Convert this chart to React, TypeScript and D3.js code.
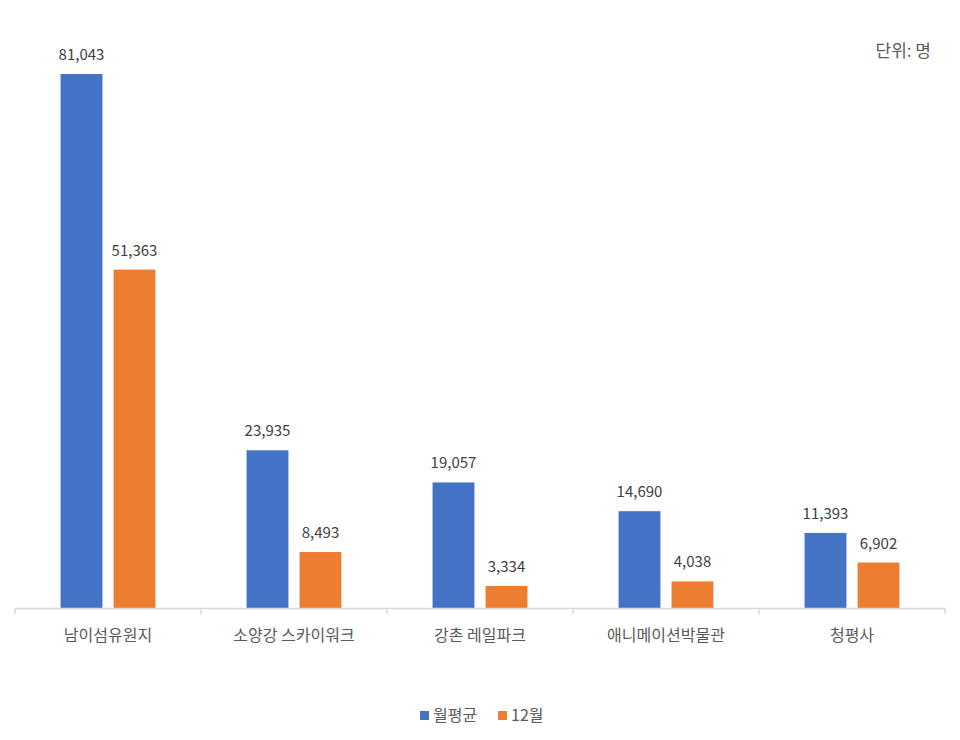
import React, { useEffect, useRef } from 'react';
import * as d3 from 'd3';

const categories = ['남이섬유원지', '소양강 스카이워크', '강촌 레일파크', '애니메이션박물관', '청평사'];
const seriesNames = ['월평균', '12월'];
const monthlyAvg = [81043, 23935, 19057, 14690, 11393];
const december = [51363, 8493, 3334, 4038, 6902];
const colors = ['#4472C4', '#ED7D31'];

const width = 960;
const height = 740;
const font = "'Noto Sans CJK KR', 'Noto Sans', sans-serif";

export default function App() {
  const ref = useRef<SVGSVGElement>(null);

  useEffect(() => {
    const svg = d3.select(ref.current);
    svg.selectAll('*').remove();

    const left = 15, right = 945, top = 15, base = 608;
    const series = [monthlyAvg, december];

    const x0 = d3.scaleBand<string>().domain(categories).range([left, right]).paddingInner(0).paddingOuter(0);
    const x1 = d3.scaleBand<string>().domain(seriesNames).range([0, x0.bandwidth()]).paddingInner(0.21).paddingOuter(0.86);
    const y = d3.scaleLinear().domain([0, 90000]).range([base, top]);

    const g = svg.append('g');

    seriesNames.forEach((name, si) => {
      g.selectAll(`rect.s${si}`)
        .data(series[si])
        .enter()
        .append('rect')
        .attr('x', (d, i) => x0(categories[i])! + x1(name)!)
        .attr('y', d => y(d))
        .attr('width', x1.bandwidth())
        .attr('height', d => base - y(d))
        .attr('fill', colors[si]);

      g.selectAll(`text.v${si}`)
        .data(series[si])
        .enter()
        .append('text')
        .attr('x', (d, i) => x0(categories[i])! + x1(name)! + x1.bandwidth() / 2)
        .attr('y', d => y(d) - 14)
        .attr('text-anchor', 'middle')
        .attr('font-family', font)
        .attr('font-size', 15)
        .attr('fill', '#404040')
        .text(d => d3.format(',')(d));
    });

    // axis
    const axis = d3.axisBottom(x0).tickSize(0).tickFormat(() => '');
    const ag = svg.append('g').attr('transform', `translate(0,${base})`).call(axis);
    ag.select('.domain').attr('stroke', '#D9D9D9').attr('stroke-width', 1.5);
    const bounds = categories.map(c => x0(c)!).concat([right]);
    ag.selectAll('line.b')
      .data(bounds)
      .enter()
      .append('line')
      .attr('x1', d => d).attr('x2', d => d)
      .attr('y1', 0).attr('y2', 6)
      .attr('stroke', '#D9D9D9').attr('stroke-width', 1.5);

    svg.append('g').selectAll('text')
      .data(categories)
      .enter()
      .append('text')
      .attr('x', d => x0(d)! + x0.bandwidth() / 2)
      .attr('y', 641)
      .attr('text-anchor', 'middle')
      .attr('font-family', font)
      .attr('font-size', 16)
      .attr('fill', '#595959')
      .text(d => d);

    // unit
    svg.append('text')
      .attr('x', 931).attr('y', 57)
      .attr('text-anchor', 'end')
      .attr('font-family', font)
      .attr('font-size', 17)
      .attr('fill', '#595959')
      .text('단위: 명');

    // legend
    const lg = svg.append('g');
    const lx = [420, 498];
    seriesNames.forEach((name, i) => {
      lg.append('rect').attr('x', lx[i]).attr('y', 711).attr('width', 9).attr('height', 9).attr('fill', colors[i]);
      lg.append('text')
        .attr('x', lx[i] + 13).attr('y', 721)
        .attr('font-family', font)
        .attr('font-size', 16)
        .attr('fill', '#595959')
        .text(name);
    });
  }, []);

  return <svg ref={ref} width={width} height={height} style={{ display: 'block', margin: -8 }} />;
}
